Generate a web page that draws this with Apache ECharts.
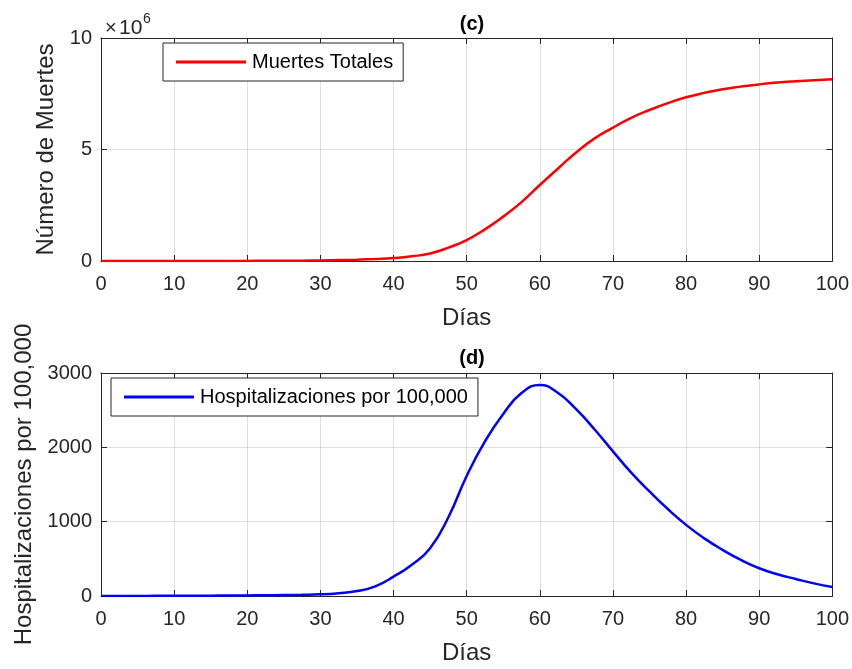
<!DOCTYPE html>
<html>
<head>
<meta charset="utf-8">
<script src="https://cdn.jsdelivr.net/npm/echarts@6/dist/echarts.min.js"></script>
<style>html,body{margin:0;padding:0;background:#fff;}#c{width:852px;height:669px;}</style>
</head>
<body>
<div id="c"></div>
<script>
// ---- data ----
var days = [0,2.5,5,7.5,10,12.5,15,17.5,20,22.5,25,27.5,30,32.5,35,37.5,40,42.5,45,47.5,50,52.5,55,57.5,60,62.5,65,67.5,70,72.5,75,77.5,80,82.5,85,87.5,90,92.5,95,97.5,100];
var deathVals = [0,0,0,500,1000,1500,2000,3000,5000,7000,10000,16000,25000,40000,60000,90000,130000,210000,340000,600000,940000,1420000,1990000,2640000,3410000,4150000,4880000,5500000,5980000,6420000,6770000,7080000,7340000,7540000,7700000,7820000,7920000,8000000,8060000,8110000,8150000];
var hospVals = [0,0,1,2,3,4,5,6,8,10,13,16,22,38,67,130,260,420,643,1060,1615,2080,2450,2730,2840,2730,2510,2240,1946,1660,1407,1170,957,775,620,485,373,292,229,170,120];
var xTicks = [0,10,20,30,40,50,60,70,80,90,100];
var deathTicks = [0,5000000,10000000];
var hospTicks = [0,1000,2000,3000];
var seriesNames = ['Muertes Totales','Hospitalizaciones por 100,000'];
var panelTitles = ['(c)','(d)'];
var xName = 'Días';
var yNames = ['Número de Muertes','Hospitalizaciones por 100,000'];

var FONT = '"Liberation Sans", Arial, Helvetica, sans-serif';
var AX = '#262626';
var GRIDC = 'rgba(38,38,38,0.15)';

function pairs(xs, ys){ return xs.map(function(x,i){return [x, ys[i]];}); }

function xAxisDef(gi, pos, main){
  return {
    type:'value', gridIndex:gi, position:pos, min:xTicks[0], max:xTicks[xTicks.length-1], interval:xTicks[1]-xTicks[0],
    name: main ? xName : '', nameLocation:'middle', nameGap:45,
    nameTextStyle:{fontFamily:FONT, fontSize:24, color:AX},
    axisLine:{show:true, onZero:false, lineStyle:{color:AX, width:1}},
    axisTick:{show:true, inside:true, length:6, lineStyle:{color:AX}},
    axisLabel:{show:main, margin:13, fontFamily:FONT, fontSize:20, color:AX},
    splitLine:{show:main, lineStyle:{color:GRIDC, width:1}}
  };
}
function yAxisDef(gi, pos, main, ticks, fmt, name, gap){
  return {
    type:'value', gridIndex:gi, position:pos, min:ticks[0], max:ticks[ticks.length-1], interval:ticks[1]-ticks[0],
    name: main ? name : '', nameLocation:'middle', nameGap:gap,
    nameTextStyle:{fontFamily:FONT, fontSize:24, color:AX},
    axisLine:{show:true, onZero:false, lineStyle:{color:AX, width:1}},
    axisTick:{show:true, inside:true, length:6, lineStyle:{color:AX}},
    axisLabel:{show:main, margin:9, fontFamily:FONT, fontSize:20, color:AX, formatter:fmt},
    splitLine:{show:main, lineStyle:{color:GRIDC, width:1}}
  };
}
function legendDef(name, left, top){
  return {data:[name], left:left, top:top, orient:'vertical', padding:[9,10,9,13], itemWidth:70, itemHeight:3, icon:'rect',
     backgroundColor:'#fff', borderColor:AX, borderWidth:1, borderRadius:0,
     textStyle:{fontFamily:FONT, fontSize:20, color:'#000', lineHeight:20, padding:[0,0,0,1]}};
}

var chart = echarts.init(document.getElementById('c'), null, {renderer:'canvas'});
chart.setOption({
  animation:false,
  backgroundColor:'#fff',
  title:[
    {text:panelTitles[0], left:467, top:9, textAlign:'center', textStyle:{fontFamily:FONT, fontSize:20, fontWeight:'bold', color:'#000'}},
    {text:panelTitles[1], left:467, top:343, textAlign:'center', textStyle:{fontFamily:FONT, fontSize:20, fontWeight:'bold', color:'#000'}}
  ],
  grid:[
    {left:101, right:19, top:38, height:223},
    {left:101, right:19, top:373, height:223}
  ],
  xAxis:[ xAxisDef(0,'bottom',true), xAxisDef(0,'top',false), xAxisDef(1,'bottom',true), xAxisDef(1,'top',false) ],
  yAxis:[
    yAxisDef(0,'left',true,deathTicks,function(v){return String(v/1e6);}, yNames[0], 41),
    yAxisDef(0,'right',false,deathTicks,null,'',0),
    yAxisDef(1,'left',true,hospTicks,function(v){return String(v);}, yNames[1], 64),
    yAxisDef(1,'right',false,hospTicks,null,'',0)
  ],
  legend:[ legendDef(seriesNames[0],163,43), legendDef(seriesNames[1],111,378) ],
  graphic:[
    {type:'text', left:105, top:18, style:{text:'×', font:'20px '+FONT, fill:AX}},
    {type:'text', left:119, top:18, style:{text:'10', font:'21px '+FONT, fill:AX}},
    {type:'text', left:143, top:12, style:{text:'6', font:'14px '+FONT, fill:AX}}
  ],
  series:[
    {name:seriesNames[0], type:'line', xAxisIndex:0, yAxisIndex:0, data:pairs(days,deathVals),
     smooth:0.5, symbol:'none', lineStyle:{color:'#ff0000', width:2.5}, itemStyle:{color:'#ff0000'}, z:5},
    {name:seriesNames[1], type:'line', xAxisIndex:2, yAxisIndex:2, data:pairs(days,hospVals),
     smooth:0.5, symbol:'none', lineStyle:{color:'#0000ff', width:2.5}, itemStyle:{color:'#0000ff'}, z:5}
  ]
});
</script>
</body>
</html>
